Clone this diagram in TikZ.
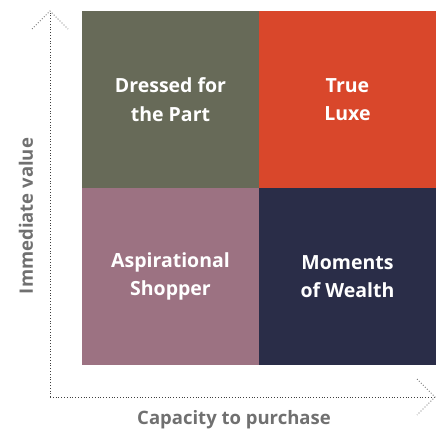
\documentclass[tikz,border=0pt]{standalone}
\usepackage{fontspec}
\setmainfont{Open Sans}
\usetikzlibrary{calc,positioning}
\definecolor{dressed}{HTML}{676A58}
\definecolor{luxe}{HTML}{D9472B}
\definecolor{aspire}{HTML}{9C7282}
\definecolor{wealth}{HTML}{2A2D48}
\definecolor{axisgrey}{HTML}{707070}
\tikzset{
    quad/.style={minimum size=177pt, inner sep=0pt, outer sep=0pt, text=white,
        font=\bfseries\fontsize{19.5}{28.5}\selectfont, align=center},
    axis/.style={line width=1pt, dash pattern=on 0.9pt off 1.9pt, draw=black!75},
    tip/.style={line width=1pt, dash pattern=on 0.9pt off 1.9pt, draw=black!55},
    axislabel/.style={text=axisgrey, font=\bfseries\fontsize{18.5}{20}\selectfont}
}

\begin{document}
\begin{tikzpicture}[x=1pt, y=-1pt]
    \useasboundingbox (0,0) rectangle (437,431);
        \node [quad, fill=dressed] (dp) at (170.5, 99.5) {Dressed for\\the Part};
        \node [quad, fill=luxe] (tl) at (347.5, 99.5) {True\\Luxe};
        \node [quad, fill=aspire] (as) at (170.5, 276.5) {Aspirational\\Shopper};
        \node [quad, fill=wealth] (mw) at (347.5, 276.5) {Moments\\of Wealth};

        \coordinate (o) at (50, 397);
        \coordinate (ytip) at (50, 11);
        \coordinate (xtip) at (435, 397);
        \draw [axis] (o) -- (ytip);
        \draw [axis] (o) -- (xtip);
        \draw [tip] ($(ytip)+(-18,18)$) -- (ytip) -- ($(ytip)+(18,18)$);
        \draw [tip] ($(xtip)+(-18,-18)$) -- (xtip) -- ($(xtip)+(-18,18)$);

        \node [axislabel] (cap) at (234, 420) {Capacity to purchase};
        \node [axislabel, rotate=90] (imm) at (26, 216) {Immediate value};
\end{tikzpicture}
\end{document}
